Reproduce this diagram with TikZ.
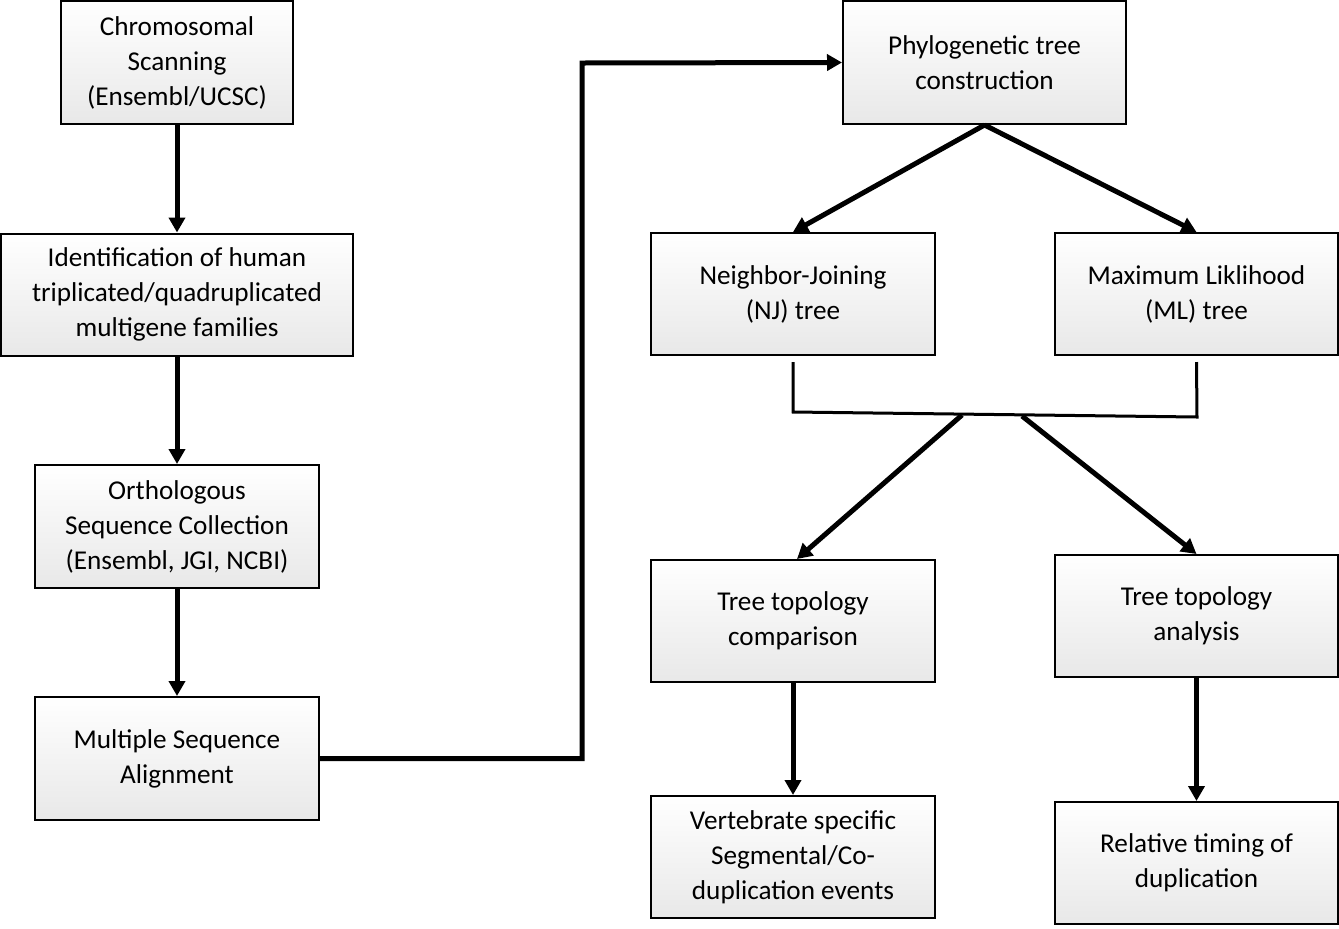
\documentclass[tikz,border=0pt]{standalone}
\usepackage{fontspec}
\setmainfont{Carlito}
\usetikzlibrary{positioning, arrows.meta}
\tikzset{
    x=0.5pt, y=-0.5pt, % one unit is one pixel of the reference
    box/.style={draw, line width=1pt, top color=white, bottom color=gray!18, align=center, inner sep=0pt, font=\fontsize{13.6}{17.5}\selectfont}, % the grey boxes
    flow/.style={line width=2.5pt, -{Triangle[length=7.5pt, width=8pt]}}, % thick arrows
    bracket/.style={line width=1.5pt}, % bracket under the two trees
    node distance=116pt, % centre to centre in the left column
}
\begin{document}
\begin{tikzpicture}
    \useasboundingbox (0,0) rectangle (1339,928);
    % left column
    \node[box, minimum width=116pt, minimum height=61.5pt] (scan) at (177,62.5) {Chromosomal\\Scanning\\(Ensembl/UCSC)};
    \node[box, minimum width=176pt, minimum height=61pt, below of=scan] (ident) {Identification of human\\triplicated/quadruplicated\\multigene families};
    \node[box, minimum width=142pt, minimum height=61.5pt, below of=ident] (ortho) {Orthologous\\Sequence Collection\\(Ensembl, JGI, NCBI)};
    \node[box, minimum width=142pt, minimum height=61.5pt, below of=ortho] (msa) {Multiple Sequence\\Alignment};
    % right part
    \node[box, minimum width=141.5pt, minimum height=61.5pt] (phylo) at (984.5,62.5) {Phylogenetic tree\\construction};
    \node[box, minimum width=142pt, minimum height=61pt] (nj) at (793,294) {Neighbor-Joining\\(NJ) tree};
    \node[box, minimum width=141.5pt, minimum height=61pt] (ml) at (1196.5,294) {Maximum Liklihood\\(ML) tree};
    \node[box, minimum width=142pt, minimum height=61pt] (comp) at (793,621) {Tree topology\\comparison};
    \node[box, minimum width=141.5pt, minimum height=61pt] (anal) at (1196.5,616) {Tree topology\\analysis};
    \node[box, minimum width=142pt, minimum height=61pt] (vert) at (793,857) {Vertebrate specific\\Segmental/Co-\\duplication events};
    \node[box, minimum width=141.5pt, minimum height=61pt] (timing) at (1196.5,863) {Relative timing of\\duplication};
    \coordinate (turn) at (582,63);
    \coordinate (jl) at (962,415);
    \coordinate (jr) at (1022,416);

    \draw[flow] (scan) -- (ident);
    \draw[flow] (ident) -- (ortho);
    \draw[flow] (ortho) -- (msa);
    \draw[flow, line join=miter] (msa.east) -| (turn) -- (phylo.west);
    \draw[flow] (phylo.south) -- (nj.north);
    \draw[flow] (phylo.south) -- (ml.north);
    \draw[bracket] ([yshift=-3]nj.south) -- (793,412) -- (1197,417) -- ([yshift=-3]ml.south);
    \draw[flow] (jl) -- ([xshift=2]comp.north);
    \draw[flow] (jr) -- (anal.north);
    \draw[flow] (comp) -- (vert);
    \draw[flow] (anal) -- (timing);
\end{tikzpicture}
\end{document}
